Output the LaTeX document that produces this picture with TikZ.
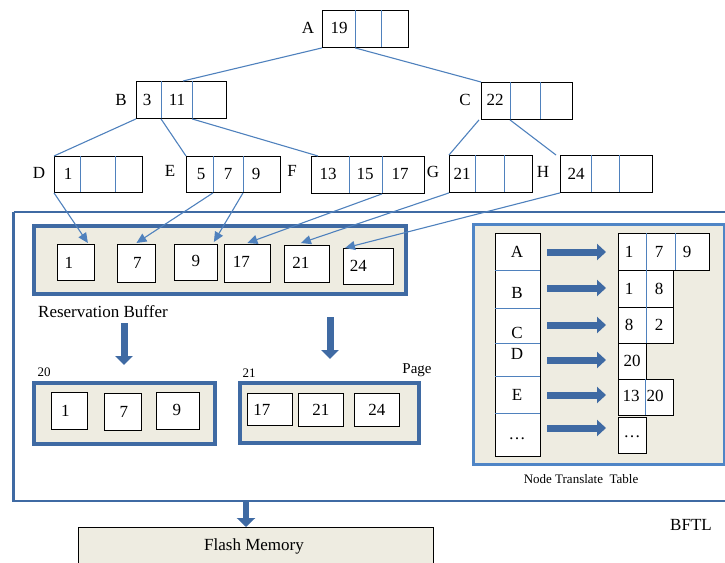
\documentclass[tikz,border=0pt]{standalone}
\usepackage{fontspec}
\setmainfont{Liberation Serif}
\usetikzlibrary{arrows.meta,calc}
\definecolor{thinblue}{HTML}{4F81BD}
\definecolor{thickblue}{HTML}{3F6AA3}
\definecolor{tblblue}{HTML}{4F85C6}
\definecolor{beige}{HTML}{EEECE1}
\begin{document}
\begin{tikzpicture}[x=1pt,y=-1pt,
  cellbox/.style={draw=black, line width=0.9pt, fill=white, inner sep=0pt, anchor=north west},
  divider/.style={draw=thinblue, line width=0.8pt},
  txt/.style={inner sep=0pt, font=\fontsize{17}{20}\selectfont},
  small/.style={inner sep=0pt, font=\fontsize{13}{15}\selectfont},
  conn/.style={draw=thinblue, line width=1.1pt},
  connarrow/.style={conn, -{Triangle[length=10pt,width=9pt]}},
  fatarrow/.style={draw=thickblue, line width=7pt, -{Triangle[length=9pt,width=17pt]}},
  panel/.style={draw=thickblue, line width=3.5pt, fill=beige}
]
\useasboundingbox (0,0) rectangle (725,562);

% ---------------- tree ----------------
\node[cellbox, minimum width=86pt, minimum height=37pt] (A) at (322,10) {};
\draw[divider] (355,10) -- (355,47); \draw[divider] (381,10) -- (381,47);
\node[txt] (Al) at (308,28) {A};
\node[txt] (A1) at (339,28) {19};

\node[cellbox, minimum width=90pt, minimum height=37pt] (B) at (136,81) {};
\draw[divider] (161,81) -- (161,118); \draw[divider] (192,81) -- (192,118);
\node[txt] (Bl) at (121,100) {B};
\node[txt] (B1) at (147,100) {3};
\node[txt] (B2) at (177,100) {11};

\node[cellbox, minimum width=91pt, minimum height=37pt] (C) at (481,82) {};
\draw[divider] (510,82) -- (510,119); \draw[divider] (540,82) -- (540,119);
\node[txt] (Cl) at (465,100) {C};
\node[txt] (C1) at (495,100) {22};

\node[cellbox, minimum width=88pt, minimum height=36pt] (D) at (54,156) {};
\draw[divider] (80,156) -- (80,192); \draw[divider] (115,156) -- (115,192);
\node[txt] (Dl) at (39,173) {D};
\node[txt] (D1) at (68,174) {1};

\node[cellbox, minimum width=94pt, minimum height=36pt] (E) at (186,156) {};
\draw[divider] (213,156) -- (213,192); \draw[divider] (243,156) -- (243,192);
\node[txt] (El) at (170,171) {E};
\node[txt] (E1) at (201,174) {5};
\node[txt] (E2) at (228,174) {7};
\node[txt] (E3) at (256,174) {9};

\node[cellbox, minimum width=113pt, minimum height=37pt] (F) at (311,156) {};
\draw[divider] (349,156) -- (349,193); \draw[divider] (382,156) -- (382,193);
\node[txt] (Fl) at (292,171) {F};
\node[txt] (F1) at (328,174) {13};
\node[txt] (F2) at (365,174) {15};
\node[txt] (F3) at (400,174) {17};

\node[cellbox, minimum width=83pt, minimum height=37pt] (G) at (449,155) {};
\draw[divider] (475,155) -- (475,192); \draw[divider] (504,155) -- (504,192);
\node[txt] (Gl) at (433,172) {G};
\node[txt] (G1) at (462,174) {21};

\node[cellbox, minimum width=92pt, minimum height=37pt] (H) at (560,155) {};
\draw[divider] (591,155) -- (591,192); \draw[divider] (619,155) -- (619,192);
\node[txt] (Hl) at (543,172) {H};
\node[txt] (H1) at (576,174) {24};

% tree edges
\draw[conn] (A.south west) -- ($(B.north west)+(47,0)$);
\draw[conn] ($(A.south west)+(33,0)$) -- (C.north west);
\draw[conn] (B.south west) -- (D.north west);
\draw[conn] ($(B.south west)+(25,0)$) -- (E.north west);
\draw[conn] ($(B.south west)+(56,0)$) -- ($(F.north west)+(7,0)$);
\draw[conn] ($(C.south west)+(-2,0)$) -- (G.north west);
\draw[conn] ($(C.south west)+(29,0)$) -- ($(H.north west)+(-4,0)$);

% ---------------- BFTL outer box ----------------
\draw[draw=thickblue, line width=2.6pt] (13.5,212) -- (727,212);
\draw[draw=thickblue, line width=2.6pt] (727,501) -- (13.5,501) -- (13.5,212);
\node[txt] (bftl) at (691,525) {BFTL};

% ---------------- reservation buffer ----------------
\node[panel, anchor=north west, minimum width=372pt, minimum height=68pt] (buf) at (32,224) {};
\node[cellbox, minimum width=37pt, minimum height=36pt] (b1) at (57,244) {};
\node[txt] at ($(b1.center)+(-7,0)$) {1};
\node[cellbox, minimum width=38pt, minimum height=38pt] (b7) at (117,244) {};
\node[txt] at ($(b7.center)+(1,-1)$) {7};
\node[cellbox, minimum width=43pt, minimum height=36pt] (b9) at (174,244) {};
\node[txt] at ($(b9.center)+(0,-1)$) {9};
\node[cellbox, minimum width=46pt, minimum height=38pt] (b17) at (224,244) {};
\node[txt] at ($(b17.center)+(-6,-2)$) {17};
\node[cellbox, minimum width=45pt, minimum height=37pt] (b21) at (284,245) {};
\node[txt] at ($(b21.center)+(-6,-1)$) {21};
\node[cellbox, minimum width=50pt, minimum height=36pt] (b24) at (343,248) {};
\node[txt] at ($(b24.center)+(-10,-1)$) {24};
\node[txt, anchor=west] (rb) at (38,312) {Reservation Buffer};

% arrows from leaves to buffer
\draw[connarrow] (D.south west) -- ($(b1.north east)+(-7,-1)$);
\draw[connarrow] ($(E.south west)+(27,0)$) -- ($(b7.north)+(0,-1)$);
\draw[connarrow] ($(E.south west)+(57,0)$) -- ($(b9.north east)+(-4,-2)$);
\draw[connarrow] ($(F.south west)+(71,0)$) -- ($(b17.north)+(0,-1)$);
\draw[connarrow] (G.south west) -- ($(b21.north)+(-6,-2)$);
\draw[connarrow] (H.south west) -- ($(b24.north west)+(2,0)$);

% fat down arrows
\coordinate (d1s) at (124,323); \coordinate (d1e) at (124,365);
\coordinate (d2s) at (330,317); \coordinate (d2e) at (330,359);
\draw[fatarrow] (d1s) -- (d1e);
\draw[fatarrow] (d2s) -- (d2e);

% ---------------- pages ----------------
\node[panel, anchor=north west, minimum width=181pt, minimum height=61pt] (p20) at (32,381) {};
\node[small] (p20l) at (44,372) {20};
\node[cellbox, minimum width=36pt, minimum height=37pt] (p1) at (51,392) {};
\node[txt] at ($(p1.center)+(-4,0)$) {1};
\node[cellbox, minimum width=37pt, minimum height=37pt] (p7) at (104,393) {};
\node[txt] at ($(p7.center)+(1,0)$) {7};
\node[cellbox, minimum width=43pt, minimum height=37pt] (p9) at (156,392) {};
\node[txt] at ($(p9.center)+(-1,-1)$) {9};

\node[panel, anchor=north west, minimum width=179pt, minimum height=60pt] (p21) at (238,381) {};
\node[small] (p21l) at (249,373) {21};
\node[font=\fontsize{15}{17}\selectfont, inner sep=0pt] (pagel) at (417,370) {Page};
\node[cellbox, minimum width=45pt, minimum height=32pt] (q17) at (247,393) {};
\node[txt] at ($(q17.center)+(-8,0)$) {17};
\node[cellbox, minimum width=45pt, minimum height=33pt] (q21) at (298,393) {};
\node[txt] at (q21.center) {21};
\node[cellbox, minimum width=45pt, minimum height=33pt] (q24) at (354,393) {};
\node[txt] at (q24.center) {24};

% ---------------- node translate table ----------------
\node[draw=tblblue, line width=3pt, fill=beige, anchor=north west, minimum width=251pt, minimum height=240pt, inner sep=0pt] (ntt) at (472,223) {};
\node[cellbox, minimum width=45pt, minimum height=223pt] (lcol) at (495,233) {};
\foreach \yy in {270,308,343,376,413} \draw[divider] (495,\yy) -- (540,\yy);
\node[txt] (tA) at (517,252) {A};
\node[txt] (tB) at (517,293) {B};
\node[txt] (tC) at (517,333) {C};
\node[txt] (tD) at (517,354) {D};
\node[txt] (tE) at (517,395) {E};
\node[txt] (tX) at (517,439) {\ldots};

\foreach \yy/\nm in {252/r1,288/r2,325/r3,360/r4,395/r5,428/r6}{
  \coordinate (\nm s) at (547,\yy);
  \coordinate (\nm e) at (606,\yy);
  \draw[fatarrow, -{Triangle[length=9pt,width=16pt]}] (\nm s) -- (\nm e);
}

\node[cellbox, minimum width=91pt, minimum height=37pt] (c1) at (618,233) {};
\draw[divider] (646,233) -- (646,270); \draw[divider] (675,233) -- (675,270);
\node[txt] at (629,252) {1}; \node[txt] at (659,252) {7}; \node[txt] at (687,252) {9};

\node[cellbox, minimum width=55pt, minimum height=37pt] (c2) at (618,270) {};
\draw[divider] (646,270) -- (646,307);
\node[txt] at (629,289) {1}; \node[txt] at (659,289) {8};

\node[cellbox, minimum width=55pt, minimum height=36pt] (c3) at (618,307) {};
\draw[divider] (646,307) -- (646,343);
\node[txt] at (629,325) {8}; \node[txt] at (659,325) {2};

\node[cellbox, minimum width=28pt, minimum height=36pt] (c4) at (618,343) {};
\node[txt] at (632,361) {20};

\node[cellbox, minimum width=55pt, minimum height=36pt] (c5) at (618,379) {};
\draw[divider] (645,379) -- (645,415);
\node[txt] at (631,396) {13}; \node[txt] at (655,396) {20};

\node[cellbox, minimum width=28pt, minimum height=36pt] (c6) at (618,417) {};
\node[txt] at (632,437) {\ldots};

\node[small] (nttl) at (581,479) {Node Translate\hspace{0.5em}Table};

% ---------------- flash memory ----------------
\node[draw=black, line width=0.9pt, fill=beige, anchor=north west, minimum width=355pt, minimum height=45pt, inner sep=0pt] (flash) at (78,527) {};
\node[txt] (flashl) at (254,546) {Flash Memory};
\coordinate (fs) at (246,502);
\draw[fatarrow, line width=6pt, -{Triangle[length=9pt,width=18pt]}] (fs) -- (flash.north -| fs);
\end{tikzpicture}
\end{document}
